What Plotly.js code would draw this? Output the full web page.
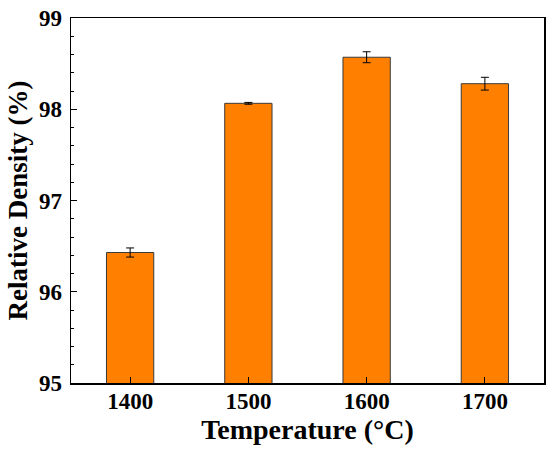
<!DOCTYPE html>
<html><head><meta charset="utf-8">
<script src="https://cdn.plot.ly/plotly-3.0.1.min.js"></script>
<style>html,body{margin:0;padding:0;background:#fff;}#chart{width:550px;height:452px;}</style>
</head><body><div id="chart"></div>
<script>
const temperatures = ['1400', '1500', '1600', '1700'];
const density = [96.43, 98.065, 98.57, 98.28];
const densityErr = [0.05, 0.01, 0.06, 0.07];
const yTicks = [95, 96, 97, 98, 99];

const fontFam = '"Liberation Serif", "Times New Roman", serif';
const data = [{
  type: 'bar',
  x: temperatures,
  y: density,
  width: 0.4,
  marker: {color: '#FF8000', line: {color: '#3a3a3a', width: 1}},
  error_y: {type: 'data', array: densityErr, visible: true, color: '#000', thickness: 1, width: 4},
  hoverinfo: 'none'
}];
const layout = {
  width: 550, height: 452,
  margin: {l: 71, r: 6, t: 18, b: 69},
  paper_bgcolor: '#fff', plot_bgcolor: '#fff',
  showlegend: false,
  xaxis: {
    type: 'category',
    range: [-0.5, 3.5],
    tickvals: temperatures,
    ticktext: temperatures.map(t => '<b>' + t + '</b>'),
    showline: true, linecolor: '#000', linewidth: 1.5, mirror: true,
    ticks: 'inside', ticklen: 6, tickwidth: 1, tickcolor: '#000',
    ticklabelstandoff: -3,
    tickfont: {family: fontFam, size: 23, color: '#000'},
    title: {text: '<b>Temperature (°C)</b>', font: {family: fontFam, size: 28, color: '#000'}, standoff: 2},
    showgrid: false, zeroline: false
  },
  yaxis: {
    range: [95, 99],
    tickvals: yTicks,
    ticktext: yTicks.map(v => '<b>' + v + '</b>'),
    showline: true, linecolor: '#000', linewidth: 1.5, mirror: true,
    ticks: 'inside', ticklen: 6, tickwidth: 1, tickcolor: '#000',
    ticklabelstandoff: 3,
    minor: {dtick: 0.2, ticks: 'inside', ticklen: 3, tickwidth: 1, tickcolor: '#000', showgrid: false},
    tickfont: {family: fontFam, size: 23, color: '#000'},
    title: {text: '<b>Relative Density (%)</b>', font: {family: fontFam, size: 27, color: '#000'}, standoff: 3},
    showgrid: false, zeroline: false
  }
};
Plotly.newPlot('chart', data, layout, {displayModeBar: false, staticPlot: true});
</script></body></html>
